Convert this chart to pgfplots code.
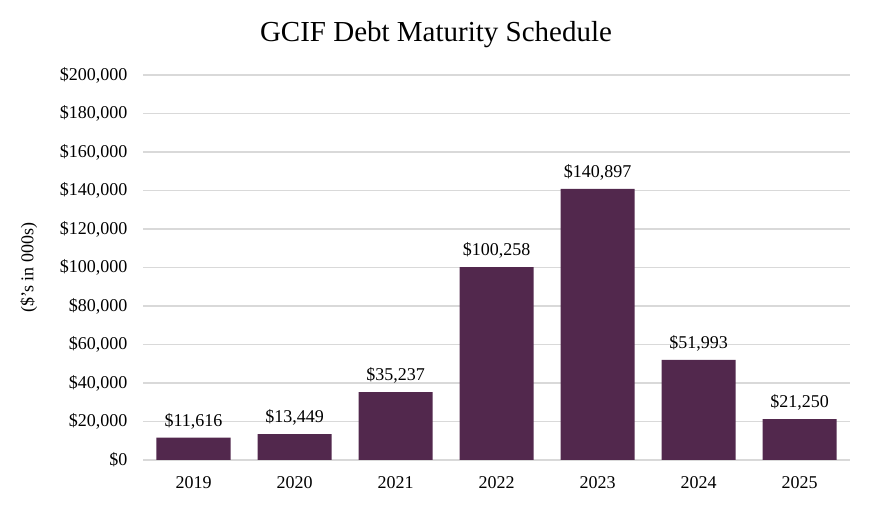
\documentclass[border=0pt]{standalone}
\usepackage{pgfplots}
\pgfplotsset{compat=1.18}
\usepackage{fontspec}
\setmainfont{Liberation Serif}
\definecolor{barpurple}{HTML}{52284D}
\definecolor{gridgray}{HTML}{D9D9D9}
\begin{document}
\begin{tikzpicture}
\useasboundingbox (0,0) rectangle (872bp,506bp);
\begin{axis}[
  at={(143bp,46bp)}, anchor=south west,
  scale only axis,
  width=707bp, height=385bp,
  xmin=-0.5, xmax=6.5,
  ymin=0, ymax=200000,
  ytick={0,20000,...,200000},
  xtick={0,...,6},
  xticklabels={2019,2020,2021,2022,2023,2024,2025},
  axis line style={draw=none},
  major tick length=0pt,
  ymajorgrids,
  grid style={gridgray, line width=1.5bp},
  /pgf/number format/assume math mode=true,
  /pgf/number format/.cd, fixed, 1000 sep={,}, precision=0, /pgfplots/.cd,
  scaled y ticks=false,
  yticklabel={\$\pgfmathprintnumber{\tick}},
  ticklabel style={font=\fontsize{18bp}{20bp}\selectfont},
  yticklabel style={xshift=-12bp},
  xticklabel style={yshift=-13bp},
  ylabel={(\$'s in 000s)},
  ylabel style={font=\fontsize{18bp}{20bp}\selectfont, yshift=16bp},
  nodes near coords={\$\pgfmathprintnumber{\pgfplotspointmeta}},
  nodes near coords style={font=\fontsize{18bp}{20bp}\selectfont, yshift=5bp},
]
\addplot[ybar, bar width=74bp, fill=barpurple, draw=none] coordinates {
  (0, 11616)
  (1, 13449)
  (2, 35237)
  (3, 100258)
  (4, 140897)
  (5, 51993)
  (6, 21250)
};
\end{axis}
\node at (436bp,471bp) {\fontsize{29bp}{33bp}\selectfont GCIF Debt Maturity Schedule};
\end{tikzpicture}
\end{document}
